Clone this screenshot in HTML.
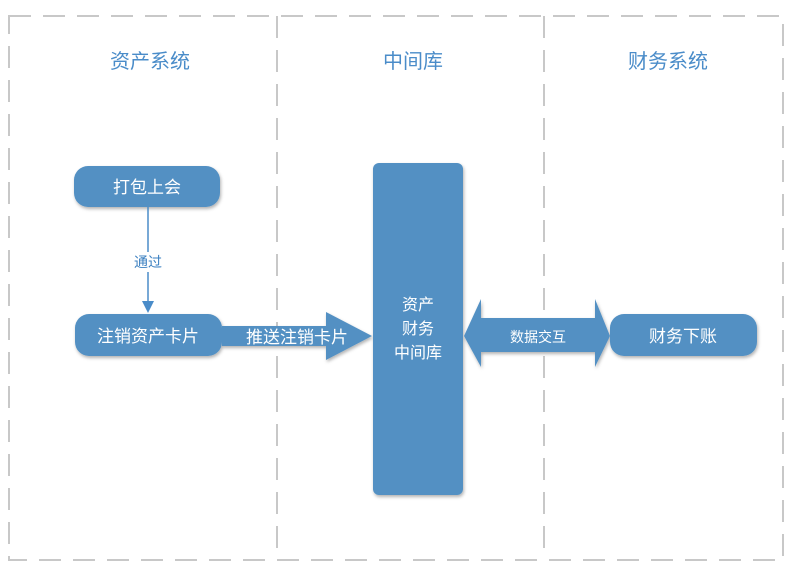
<!DOCTYPE html>
<html><head><meta charset="utf-8"><style>
body{margin:0;background:#fff;}
svg text{font-family:"Liberation Sans","Noto Sans CJK SC",sans-serif;}
</style></head><body>
<svg width="799" height="577" viewBox="0 0 799 577" xmlns="http://www.w3.org/2000/svg">
<defs><filter id="s" x="-20%" y="-20%" width="140%" height="140%"><feDropShadow dx="1" dy="2" stdDeviation="1.5" flood-color="#000" flood-opacity="0.3"/></filter></defs>
<g stroke="#c8c8c8" stroke-width="2" fill="none" stroke-dasharray="22,12">
<rect x="9" y="16" width="774" height="544"/>
<line x1="277" y1="16" x2="277" y2="560"/>
<line x1="544" y1="16" x2="544" y2="560"/>
</g>
<g fill="#4a8cc9" font-size="20" text-anchor="middle">
<text x="150" y="68">资产系统</text>
<text x="413" y="68">中间库</text>
<text x="668" y="68">财务系统</text>
</g>
<g fill="#5390c3" filter="url(#s)">
<rect x="74" y="166" width="146" height="41" rx="14"/>
<rect x="75" y="314" width="147" height="42" rx="14"/>
<rect x="610" y="314" width="147" height="42" rx="14"/>
<rect x="373" y="163" width="90" height="332" rx="6"/>
<polygon points="222,326 326,326 326,312 372,336 326,360 326,346 222,346"/>
<polygon points="464,336 481,299 481,318 595,318 595,299 610,336 595,367 595,352 481,352 481,367"/>
</g>
<line x1="148" y1="207" x2="148" y2="302" stroke="#4a8cc9" stroke-width="1.5"/>
<polygon points="142,301 154,301 148,313" fill="#4a8cc9"/>
<rect x="131" y="252" width="34" height="20" fill="#fff"/>
<text x="148" y="267" font-size="14" fill="#3a7fc0" text-anchor="middle">通过</text>
<g fill="#fff" text-anchor="middle">
<text x="147" y="193" font-size="17">打包上会</text>
<text x="148" y="342" font-size="17">注销资产卡片</text>
<text x="297" y="343" font-size="17">推送注销卡片</text>
<text x="683" y="342" font-size="17">财务下账</text>
<text x="418" y="310" font-size="16">资产</text>
<text x="418" y="334" font-size="16">财务</text>
<text x="418" y="358" font-size="16">中间库</text>
<text x="538" y="342" font-size="14">数据交互</text>
</g>
</svg>
</body></html>
